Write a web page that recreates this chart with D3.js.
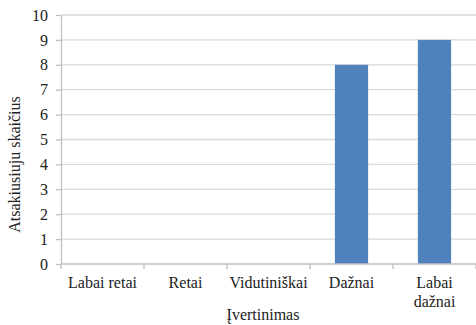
<!DOCTYPE html>
<html><head><meta charset="utf-8">
<script src="https://cdn.jsdelivr.net/npm/d3@7"></script>
</head>
<body style="margin:0">
<script>
const categories = ["Labai retai", "Retai", "Vidutiniškai", "Dažnai", "Labai dažnai"];
const categoryLines = [["Labai retai"], ["Retai"], ["Vidutiniškai"], ["Dažnai"], ["Labai", "dažnai"]];
const values = [0, 0, 0, 8, 9];
const yTicks = [0, 1, 2, 3, 4, 5, 6, 7, 8, 9, 10];
const yTitle = "Atsakiusiuju skaičius";
const xTitle = "Įvertinimas";

const FONT = "Liberation Serif";
const W = 476, H = 325;
const L = 61, R = 476, T = 15, B = 264;
const svg = d3.select("body").append("svg").attr("width", W).attr("height", H)
  .style("display", "block");

const x = d3.scaleBand().domain(categories).range([L, R]).paddingInner(0.6).paddingOuter(0.3);
const y = d3.scaleLinear().domain([0, 10]).range([B, T]);

// gridlines
svg.append("g").selectAll("line").data(yTicks.filter(d => d > 0)).join("line")
  .attr("x1", L).attr("x2", R).attr("y1", d => y(d)).attr("y2", d => y(d))
  .attr("stroke", "#d9d9d9").attr("stroke-width", 1.3);

// bars
svg.append("g").selectAll("rect").data(values).join("rect")
  .attr("x", (d, i) => x(categories[i]))
  .attr("width", x.bandwidth())
  .attr("y", d => y(d))
  .attr("height", d => y(0) - y(d))
  .attr("fill", "#4f81bd");

// y axis
const ya = svg.append("g").attr("transform", `translate(${L},0)`)
  .call(d3.axisLeft(y).tickValues(yTicks).tickSize(5).tickPadding(8).tickSizeOuter(0));
ya.attr("font-family", null).attr("font-size", null);
ya.select(".domain").attr("stroke", "#bfbfbf").attr("stroke-width", 1.3);
ya.selectAll(".tick line").attr("stroke", "#bfbfbf").attr("stroke-width", 1.3);
ya.selectAll(".tick text").attr("font-size", 16).attr("fill", "#222").attr("font-family", FONT);

// x axis line and boundary ticks
svg.append("line").attr("x1", L).attr("x2", R).attr("y1", B).attr("y2", B)
  .attr("stroke", "#bfbfbf").attr("stroke-width", 1.3);
const step = x.step();
svg.append("g").selectAll("line").data(d3.range(categories.length + 1)).join("line")
  .attr("x1", i => L + i * step).attr("x2", i => L + i * step)
  .attr("y1", B).attr("y2", B + 5)
  .attr("stroke", "#bfbfbf").attr("stroke-width", 1.3);

// x labels
categoryLines.forEach((lines, i) => {
  lines.forEach((ln, j) => {
    svg.append("text")
      .attr("x", x(categories[i]) + x.bandwidth() / 2)
      .attr("y", 288 + j * 19)
      .attr("text-anchor", "middle")
      .attr("font-family", FONT)
      .attr("font-size", 16).attr("fill", "#222").text(ln);
  });
});

// titles
svg.append("text").attr("x", 263).attr("y", 320).attr("text-anchor", "middle")
  .attr("font-family", FONT)
  .attr("font-size", 16).attr("fill", "#222").text(xTitle);
svg.append("text").attr("transform", "translate(20,164.5) rotate(-90)")
  .attr("font-family", FONT)
  .attr("text-anchor", "middle").attr("font-size", 16).attr("fill", "#222").text(yTitle);
</script>
</body></html>
